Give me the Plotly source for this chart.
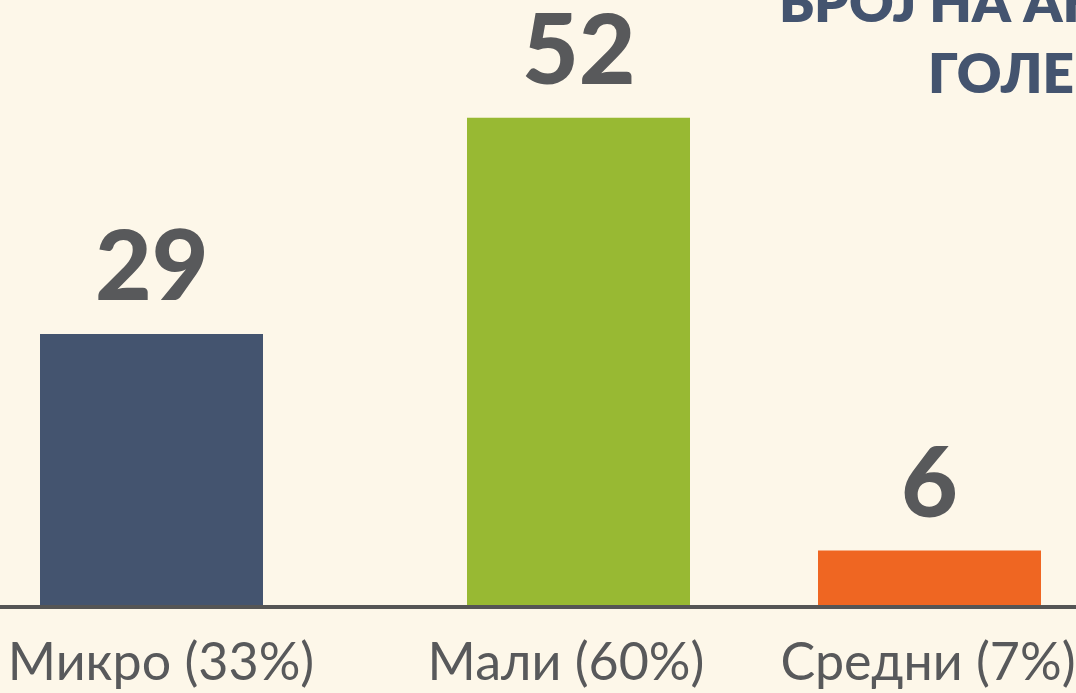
import plotly.graph_objects as go

# ---- data ----
categories = ["Микро (33%)", "Мали (60%)", "Средни (7%)"]
counts = [29, 52, 6]
bar_colors = ["#44546f", "#98b933", "#ef6622"]
title_lines = ["БРОЈ НА АНКЕТИРАНИ КОМПАНИИ", "ГОЛЕМИНА"]

# ---- layout constants (slot centres on a 0..1076 axis) ----
slot_centers = [151.5, 578.5, 929.5]
label_centers = [161, 566, 928]
bar_width = 223
W, H = 1076, 693
BG = "#fdf7e9"
TXT = "#58595b"

fig = go.Figure()
fig.add_trace(go.Bar(
    x=slot_centers, y=counts, width=bar_width,
    marker=dict(color=bar_colors, line=dict(width=0)),
    hoverinfo="skip",
))

for xc, v in zip(slot_centers, counts):
    fig.add_annotation(
        x=xc, y=v, xref="x", yref="y", text=str(v), showarrow=False,
        yanchor="bottom", yshift=11,
        font=dict(family="Lato", size=98, color=TXT, weight=900),
    )

# baseline
fig.add_shape(type="line", xref="paper", yref="paper", x0=0, x1=1, y0=0, y1=0,
              line=dict(color="#555555", width=4), layer="above")

# title (cropped at top-right, as in the source image)
fig.add_annotation(x=777 / W, y=0.998, xref="paper", yref="paper",
                   text=title_lines[0], showarrow=False, xanchor="left", yanchor="middle",
                   font=dict(family="Lato", size=55, color="#44546f", weight=800))
fig.add_annotation(x=926 / W, y=0.882, xref="paper", yref="paper",
                   text=title_lines[1], showarrow=False, xanchor="left", yanchor="middle",
                   font=dict(family="Lato", size=55, color="#44546f", weight=800))

fig.update_layout(
    width=W, height=H,
    margin=dict(l=0, r=0, t=0, b=86),
    paper_bgcolor=BG, plot_bgcolor=BG,
    showlegend=False,
    xaxis=dict(range=[0, W], tickvals=label_centers, ticktext=categories,
               showgrid=False, zeroline=False, showline=False, ticks="",
               tickfont=dict(family="Lato", size=52, color=TXT),
               ticklabelstandoff=20, fixedrange=True),
    yaxis=dict(range=[0, 64.5], visible=False, fixedrange=True),
)

fig.write_html("out.html", config={"displayModeBar": False})
